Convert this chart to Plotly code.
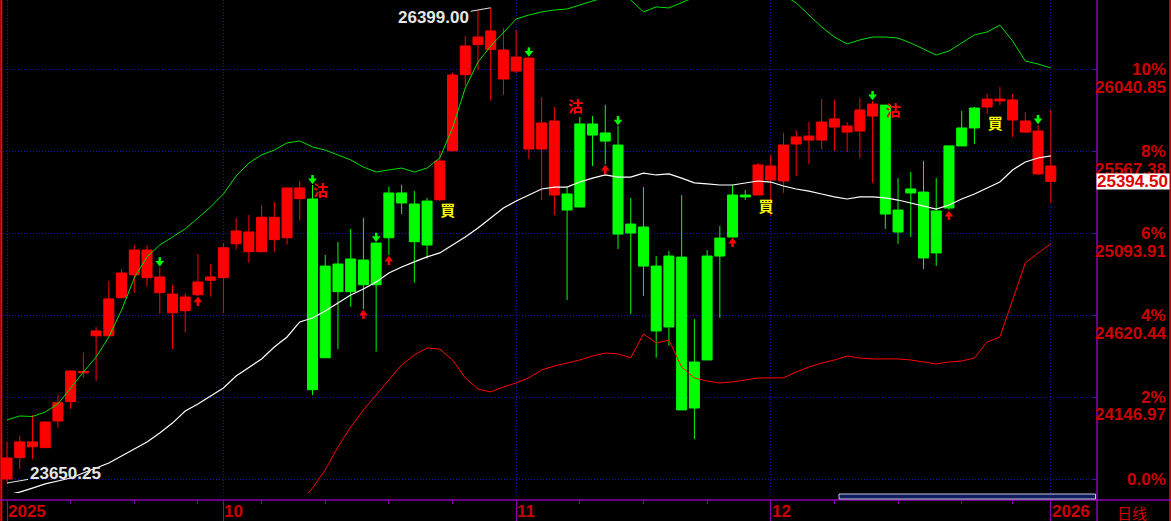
import pandas as pd
import plotly.graph_objects as go

# ---------------- data ----------------
dates = pd.bdate_range("2025-09-08", "2026-01-02")
dates = dates[~dates.isin(pd.to_datetime(["2025-12-25", "2026-01-01"]))]
date_labels = [d.strftime("%Y-%m-%d") for d in dates]
x = list(range(len(dates)))

month_tick_text = ["2025", "10", "11", "12", "2026"]

opens = [23673.50, 23797, 23860, 23855, 24009, 24121, 24288, 24502, 24502, 24722,
         24855, 24998, 24842, 24743, 24647, 24739, 24823, 24838, 25034, 25102,
         24988, 25187, 25069, 25357, 25293, 24375, 24917, 24757, 24940, 24797,
         25069, 25328, 25264, 25027, 25289, 25572, 26012, 26186, 26157, 26155,
         26033, 26108, 25582, 25744, 25322, 25247, 25727, 25675, 25605, 25096,
         25131, 24905, 24553, 24957, 24084, 24362, 24963, 25073, 25316, 25316,
         25484, 25397, 25611, 25634, 25634, 25709, 25715, 25686, 25773, 25836,
         25229, 25328, 25333, 24981, 25241, 25600, 25704, 25825, 25871, 25866,
         25744, 25686, 25484]
closes = [23795, 23888, 23888, 24003, 24115, 24298, 24294, 24530, 24715, 24865,
          24998, 24838, 24751, 24635, 24726, 24813, 24842, 25011, 25108, 24988,
          25187, 25058, 25357, 25295, 24190, 24905, 24757, 24946, 24797, 25038,
          25328, 25270, 25046, 25281, 25513, 26010, 26178, 26230, 26265, 25987,
          26114, 25582, 25733, 25316, 25229, 25727, 25663, 25628, 25090, 25148,
          24905, 24530, 24963, 24073, 24350, 24963, 25067, 25316, 25305, 25490,
          25403, 25605, 25652, 25657, 25738, 25756, 25680, 25808, 25842, 25206,
          25102, 25351, 24952, 25224, 25600, 25704, 25819, 25871, 25860, 25750,
          25680, 25438, 25394.50]
highs = [23888, 23922, 24044, 24006, 24159, 24300, 24404, 24553, 24820, 24888,
         25027, 25027, 24898, 24796, 24748, 24975, 24917, 25037, 25183, 25200,
         25257, 25276, 25358, 25397, 25374, 24969, 25044, 25120, 25183, 25040,
         25364, 25374, 25339, 25299, 25571, 26024, 26236, 26386, 26399.00, 26282,
         26270, 26112, 25883, 25825, 25362, 25767, 25773, 25837, 25715, 25299,
         25362, 24963, 24992, 25316, 24599, 24998, 25137, 25374, 25345, 25501,
         25548, 25675, 25692, 25738, 25871, 25866, 25738, 25877, 25860, 25837,
         25414, 25449, 25513, 25414, 25605, 25802, 25825, 25900, 25941, 25900,
         25796, 25721, 25808]
lows = [23650.25, 23731, 23789, 23852, 23970, 24078, 24259, 24242, 24500, 24720,
        24751, 24786, 24630, 24425, 24520, 24732, 24728, 24634, 25000, 24925,
        24986, 24988, 25029, 25168, 24159, 24373, 24425, 24670, 24657, 24410,
        24969, 25206, 24809, 24948, 25281, 25568, 25948, 26039, 25862, 25895,
        26020, 25524, 25287, 25200, 24709, 25245, 25484, 25495, 25004, 24628,
        24732, 24375, 24443, 24073, 23905, 24362, 24605, 25073, 25287, 25316,
        25195, 25328, 25426, 25495, 25582, 25571, 25565, 25530, 25386, 25120,
        25033, 25073, 24888, 24906, 25229, 25600, 25611, 25785, 25837, 25652,
        25675, 25432, 25270]

band_upper = [24015, 24038, 24035, 24061, 24107, 24200, 24292, 24379, 24495, 24651,
              24836, 24958, 25027, 25073, 25120, 25183, 25247, 25322, 25426, 25501,
              25548, 25576, 25617, 25629, 25594, 25576, 25548, 25519, 25478, 25449,
              25461, 25472, 25449, 25472, 25530, 25704, 25935, 26085, 26178, 26253,
              26334, 26357, 26375, 26386, 26392, 26415, 26438, 26461, 26473, 26444,
              26375, 26404, 26398, 26427, 26456, 26490, 26513, 26531, 26531, 26531,
              26513, 26473, 26427, 26357, 26288, 26230, 26190, 26213, 26230, 26230,
              26224, 26195, 26161, 26126, 26149, 26195, 26242, 26259, 26299, 26207,
              26091, 26074, 26051]
band_mid = [23581, 23598, 23621, 23645, 23662, 23679, 23708, 23737, 23766, 23807,
            23847, 23888, 23940, 23997, 24067, 24107, 24154, 24200, 24269, 24321,
            24368, 24437, 24495, 24582, 24605, 24645, 24691, 24738, 24772, 24813,
            24865, 24900, 24929, 24958, 24981, 25027, 25073, 25125, 25183, 25241,
            25281, 25316, 25351, 25362, 25362, 25391, 25414, 25432, 25420, 25420,
            25443, 25432, 25438, 25414, 25386, 25380, 25374, 25374, 25386, 25397,
            25391, 25368, 25351, 25339, 25322, 25305, 25293, 25305, 25305, 25299,
            25287, 25270, 25253, 25235, 25258, 25293, 25322, 25357, 25391, 25461,
            25507, 25530, 25542]
band_lower = [23147, 23159, 23205, 23228, 23217, 23182, 23112, 23089, 23037, 22962,
              22858, 22817, 22852, 22922, 23014, 23031, 23060, 23072, 23107, 23136,
              23188, 23298, 23373, 23535, 23621, 23726, 23859, 23974, 24073, 24159,
              24246, 24333, 24391, 24431, 24425, 24362, 24258, 24194, 24177, 24206,
              24229, 24259, 24304, 24327, 24344, 24362, 24385, 24402, 24397, 24375,
              24512, 24460, 24477, 24321, 24258, 24240, 24229, 24235, 24246, 24258,
              24258, 24259, 24292, 24321, 24344, 24362, 24385, 24373, 24368, 24368,
              24368, 24362, 24350, 24339, 24350, 24356, 24373, 24466, 24495, 24709,
              24923, 24981, 25033]

sell_signals = [24, 44, 69]      # 沽
buy_signals = [34, 59, 77]       # 買
down_arrows = [12, 24, 29, 41, 48, 68, 81]
up_arrows = [15, 28, 30, 47, 57, 74]
pct_levels = [0, 2, 4, 6, 8, 10]

# ---------------- style / layout constants ----------------
W, H = 1171, 521
PLOT_W = 1097
X_LO, X_HI = -0.55, 85.63
Y_TOP, Y_BOT = 26444.0, 23592.5
Y_LEN = 493
PPP = (Y_TOP - Y_BOT) / Y_LEN          # price per pixel
PPX = PLOT_W / (X_HI - X_LO)           # pixel per index

RED = "#ff0000"
GREEN = "#00ff00"
LBL_RED = "#cc0000"
PURPLE = "#8c00b4"
BLUE = "#1818a8"
TXT_FONT = "Liberation Sans, Arial, sans-serif"

# regimes
state = "buy"
regime = []
for i in x:
    if i in sell_signals:
        state = "sell"
    if i in buy_signals:
        state = "buy"
    regime.append(state)

fig = go.Figure()

# signal labels (under candles)
sell_off = {24: (8, 7.5), 44: (8.5, -78.5), 69: (8, 7.5)}
buy_off = {34: (8, 11), 59: (8, 13.5), 77: (8, 11.5)}
fig.add_trace(go.Scatter(
    x=[i + sell_off[i][0] / PPX for i in sell_signals],
    y=[highs[i] - sell_off[i][1] * PPP for i in sell_signals],
    mode="text", text=["<b>沽</b>"] * len(sell_signals),
    textfont=dict(family="Noto Sans CJK TC", size=15, color=RED),
    hoverinfo="skip"))
fig.add_trace(go.Scatter(
    x=[i + buy_off[i][0] / PPX for i in buy_signals],
    y=[lows[i] - buy_off[i][1] * PPP for i in buy_signals],
    mode="text", text=["<b>買</b>"] * len(buy_signals),
    textfont=dict(family="Noto Sans CJK TC", size=15, color="#ffff00"),
    hoverinfo="skip"))

# candles
for reg, col in (("buy", RED), ("sell", GREEN)):
    idx = [i for i in x if regime[i] == reg]
    fig.add_trace(go.Candlestick(
        x=idx,
        open=[opens[i] for i in idx], high=[highs[i] for i in idx],
        low=[lows[i] for i in idx], close=[closes[i] for i in idx],
        increasing=dict(line=dict(color=col, width=1), fillcolor=col),
        decreasing=dict(line=dict(color=col, width=1), fillcolor=col),
        whiskerwidth=0, hoverinfo="skip", showlegend=False))

# bands
fig.add_trace(go.Scatter(x=x, y=band_upper, mode="lines",
                         line=dict(color="#00e000", width=1), hoverinfo="skip"))
fig.add_trace(go.Scatter(x=x, y=band_mid, mode="lines",
                         line=dict(color="#ffffff", width=1.2), hoverinfo="skip"))
fig.add_trace(go.Scatter(x=x, y=band_lower, mode="lines",
                         line=dict(color=RED, width=1), hoverinfo="skip"))

# arrows
def arrow_traces(idx, down, col):
    hx, hy, sx, sy = [], [], [], []
    for i in idx:
        if down:
            tip = highs[i] + 1 * PPP
            hx.append(i); hy.append(tip + 3.5 * PPP)
            sx += [i, i, None]; sy += [tip + 4.5 * PPP, tip + 9 * PPP, None]
        else:
            tip = lows[i] - 1 * PPP
            hx.append(i); hy.append(tip - 3.5 * PPP)
            sx += [i, i, None]; sy += [tip - 4.5 * PPP, tip - 9 * PPP, None]
    fig.add_trace(go.Scatter(x=sx, y=sy, mode="lines",
                             line=dict(color=col, width=2.5), hoverinfo="skip"))
    fig.add_trace(go.Scatter(x=hx, y=hy, mode="markers",
                             marker=dict(symbol="triangle-down" if down else "triangle-up",
                                         size=7.5, color=col, line=dict(width=0)),
                             hoverinfo="skip"))

arrow_traces(down_arrows, True, GREEN)
arrow_traces(up_arrows, False, RED)

# ---------------- axes ----------------
month_idx = [i for i in x if i == 0 or dates[i].month != dates[i - 1].month]
monday_idx = [i for i in x if dates[i].weekday() == 0 and i not in month_idx]
base = opens[0]
levels = [base * (1 + p / 100) for p in pct_levels]

fig.update_layout(
    width=W, height=H,
    margin=dict(l=0, r=W - PLOT_W, t=0, b=21, pad=0, autoexpand=False),
    paper_bgcolor="#000000", plot_bgcolor="#000000",
    showlegend=False, hovermode=False,
    boxgap=0.215, boxgroupgap=0,
    xaxis=dict(range=[X_LO, X_HI], anchor="free", position=0,
               tickmode="array", tickvals=month_idx,
               ticks="outside", ticklen=21, tickwidth=1, tickcolor=PURPLE,
               showticklabels=False, showgrid=True, gridcolor=BLUE,
               griddash="1px,2px", gridwidth=1, zeroline=False, showline=False,
               rangeslider=dict(visible=False), fixedrange=True,
               minor=dict(tickmode="array", tickvals=monday_idx, ticks="outside",
                          ticklen=3, tickcolor=PURPLE, showgrid=False)),
    yaxis=dict(range=[Y_BOT, Y_TOP], domain=[7 / 500, 1], side="right",
               tickmode="array", tickvals=levels, ticks="inside", ticklen=4,
               tickcolor="#2828c0", showticklabels=False, showgrid=True,
               gridcolor=BLUE, griddash="1px,2px", gridwidth=1,
               zeroline=False, showline=False, fixedrange=True),
)

# ---------------- frame shapes ----------------
shapes = [
    dict(type="line", xref="paper", yref="paper", x0=0.0012, x1=0.0012, y0=-0.05, y1=1,
         line=dict(color=RED, width=2)),
    dict(type="line", xref="paper", yref="paper", x0=1170 / PLOT_W, x1=1170 / PLOT_W,
         y0=-0.05, y1=1, line=dict(color=RED, width=1.5)),
    dict(type="line", xref="paper", yref="paper", x0=1, x1=1, y0=-0.05, y1=1,
         line=dict(color=PURPLE, width=1.5)),
    dict(type="line", xref="paper", yref="paper", x0=0, x1=W / PLOT_W, y0=0, y1=0,
         line=dict(color=PURPLE, width=1.5)),
    dict(type="rect", xref="paper", yref="paper", x0=839 / PLOT_W, x1=1095.5 / PLOT_W,
         y0=0.002, y1=0.012, fillcolor="#0c1c5c", line=dict(color="#c8c8d8", width=1)),
]
fig.update_layout(shapes=shapes)

# ---------------- annotations ----------------
ann = []
for p, lv in zip(pct_levels, levels):
    ann.append(dict(x=1168 / PLOT_W, xref="paper", xanchor="right", y=lv, yref="y",
                    yanchor="middle", showarrow=False,
                    text="0.0%" if p == 0 else f"{p}%",
                    font=dict(family=TXT_FONT, size=17, color=LBL_RED, weight="bold")))
    if p > 0:
        ann.append(dict(x=1168 / PLOT_W, xref="paper", xanchor="right", y=lv, yref="y",
                        yanchor="middle", yshift=-17.8, showarrow=False,
                        text=f"{lv:.2f}",
                        font=dict(family=TXT_FONT, size=17, color=LBL_RED, weight="bold")))

for mi, t in zip(month_idx, month_tick_text):
    ann.append(dict(x=mi, xref="x", xanchor="left", xshift=0, y=-0.003, yref="paper",
                    yanchor="top", showarrow=False, text=t, borderpad=0,
                    font=dict(family=TXT_FONT, size=17, color=LBL_RED, weight="bold")))

ann.append(dict(x=1132 / PLOT_W, xref="paper", xanchor="center", y=-0.025, yref="paper",
                yanchor="middle", showarrow=False, text="日线", borderpad=0,
                font=dict(family="Noto Sans CJK SC", size=15, color=LBL_RED)))

# last price box
ann.append(dict(x=1096 / PLOT_W, xref="paper", xanchor="left", y=closes[-1], yref="y",
                yanchor="middle", showarrow=False, text=f"{closes[-1]:.2f}",
                bgcolor="#ffffff", width=72, height=15, align="left", borderpad=0,
                font=dict(family=TXT_FONT, size=17, color="#e00000", weight="bold")))

# max / min labels
imax = max(x, key=lambda i: highs[i])
imin = min(x, key=lambda i: lows[i])
ann.append(dict(x=imax, y=highs[imax], xref="x", yref="y", text=f"{highs[imax]:.2f}",
                showarrow=True, arrowhead=0, arrowwidth=1, arrowcolor="#e6e6e6",
                ax=-57, ay=10, font=dict(family=TXT_FONT, size=17, color="#e6e6e6",
                                         weight="bold")))
ann.append(dict(x=imin, y=lows[imin], xref="x", yref="y", text=f"{lows[imin]:.2f}",
                showarrow=True, arrowhead=0, arrowwidth=1, arrowcolor="#e6e6e6",
                ax=58, ay=-10, font=dict(family=TXT_FONT, size=17, color="#e6e6e6",
                                         weight="bold")))
fig.update_layout(annotations=ann)

fig.write_html("out.html", config={"displayModeBar": False},
               post_script="document.body.style.margin='0';document.body.style.overflow='hidden';")
